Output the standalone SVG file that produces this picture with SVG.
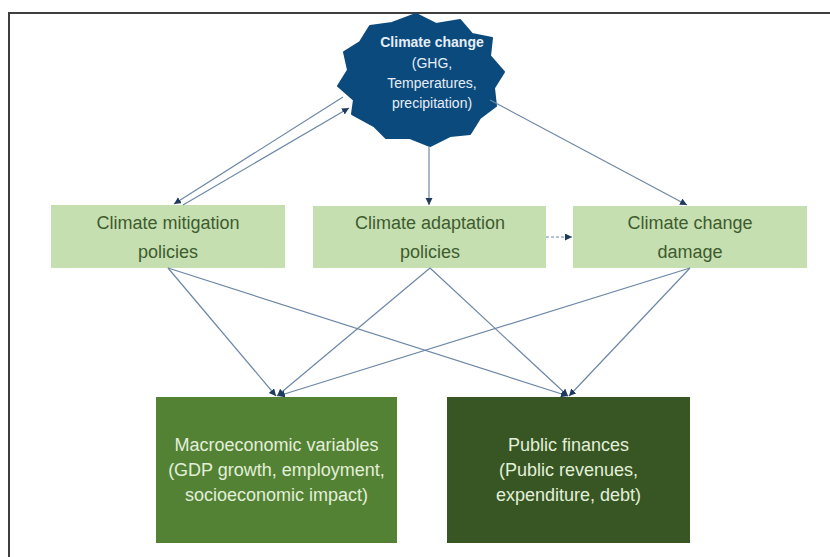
<svg xmlns="http://www.w3.org/2000/svg" width="830" height="557" viewBox="0 0 830 557">
  <style>
    .frame { fill: none; stroke: #3f3f3f; stroke-width: 2; }
    .policy { fill: #c5dfb0; }
    .ptext { font-family: "Liberation Sans", Arial, sans-serif; font-size: 18px; fill: #3e5b2f; text-anchor: middle; }
    .otext { font-family: "Liberation Sans", Arial, sans-serif; font-size: 18px; fill: #e2efd9; text-anchor: middle; }
    .stext { font-family: "Liberation Sans", Arial, sans-serif; font-size: 14px; fill: #e6eef7; text-anchor: middle; }
    .conn { fill: none; stroke: #6d87a6; stroke-width: 1.2; marker-end: url(#ah); }
  </style>
  <defs>
    <marker id="ah" markerUnits="userSpaceOnUse" markerWidth="8" markerHeight="8" refX="7" refY="3.5" orient="auto">
      <path d="M0,0 L7,3.5 L0,7 z" fill="#1f3a5f"/>
    </marker>
  </defs>
  <rect width="830" height="557" fill="#ffffff"/>
  <path class="frame" d="M9,557 L9,13 L830,13"/>

  <g id="climate-change">
    <polygon fill="#0b4a7d" stroke="#0b4a7d" stroke-width="2" stroke-linejoin="round" points="416,14 436,24 460,20 472,34 492,38 490,56 504,72 494,88 496,106 480,118 470,134 450,136 430,146 410,138 386,138 374,126 352,114 354,100 338,86 348,70 344,52 360,42 370,26 392,23"/>
    <text class="stext" x="432" y="47" font-weight="bold">Climate change</text>
    <text class="stext" x="432" y="68">(GHG,</text>
    <text class="stext" x="432" y="88">Temperatures,</text>
    <text class="stext" x="432" y="108">precipitation)</text>
  </g>

  <g id="mitigation">
    <rect class="policy" x="51" y="205" width="234" height="63"/>
    <text class="ptext" x="168" y="229">Climate mitigation</text>
    <text class="ptext" x="168" y="258">policies</text>
  </g>

  <g id="adaptation">
    <rect class="policy" x="313" y="206" width="233" height="62"/>
    <text class="ptext" x="430" y="229">Climate adaptation</text>
    <text class="ptext" x="430" y="258">policies</text>
  </g>

  <g id="damage">
    <rect class="policy" x="573" y="206" width="234" height="62"/>
    <text class="ptext" x="690" y="229">Climate change</text>
    <text class="ptext" x="690" y="258">damage</text>
  </g>

  <g id="macro">
    <rect x="156" y="397" width="241" height="146" fill="#548235"/>
    <text class="otext" x="276.5" y="451">Macroeconomic variables</text>
    <text class="otext" x="276.5" y="476">(GDP growth, employment,</text>
    <text class="otext" x="276.5" y="501">socioeconomic impact)</text>
  </g>

  <g id="public">
    <rect x="447" y="397" width="243" height="146" fill="#375623"/>
    <text class="otext" x="568.5" y="451">Public finances</text>
    <text class="otext" x="568.5" y="476">(Public revenues,</text>
    <text class="otext" x="568.5" y="501">expenditure, debt)</text>
  </g>

  <g id="connectors">
    <path class="conn" d="M343,97 L174,204"/>
    <path class="conn" d="M183,205 L349,108"/>
    <path class="conn" d="M429,146 L429,205"/>
    <path class="conn" d="M490,100 L687,205"/>
    <path class="conn" d="M546,237 L572,237" stroke-dasharray="3,2"/>
    <path class="conn" d="M168,268 L276,396"/>
    <path class="conn" d="M168,268 L568,396"/>
    <path class="conn" d="M430,268 L277,396"/>
    <path class="conn" d="M430,268 L568,396"/>
    <path class="conn" d="M690,268 L278,396"/>
    <path class="conn" d="M690,268 L569,396"/>
  </g>
</svg>
